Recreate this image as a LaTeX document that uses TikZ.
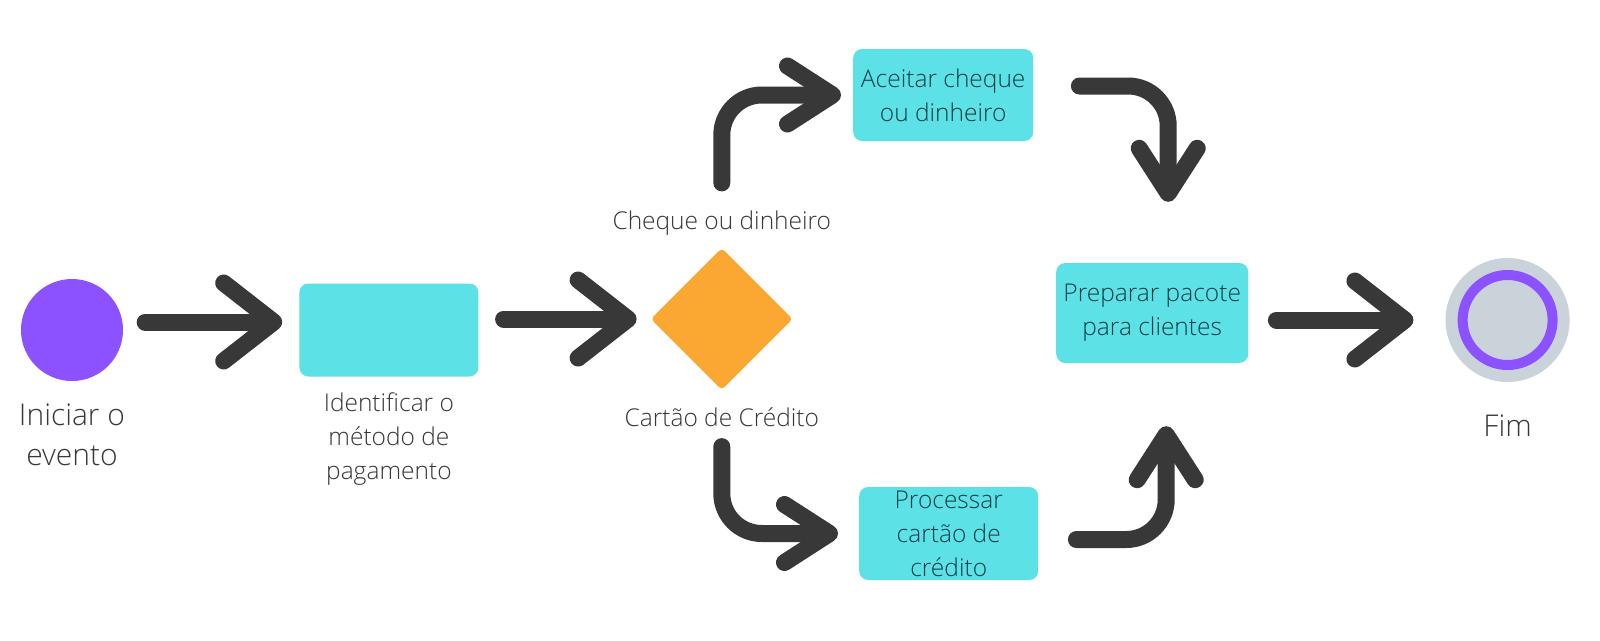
\documentclass[tikz,border=0pt]{standalone}
\usepackage{fontspec}
\setmainfont{Open Sans}[UprightFont=* Light]
\usepackage{tikz}
\usetikzlibrary{arrows.meta, positioning, shapes.geometric}

\definecolor{roxo}{HTML}{8C52FF}
\definecolor{ciano}{HTML}{5CE1E6}
\definecolor{laranja}{HTML}{FAA831}
\definecolor{cinza}{HTML}{CAD2DA}
\definecolor{escuro}{HTML}{383838}
\definecolor{textoazul}{HTML}{0F3F45}

\begin{document}
\begin{tikzpicture}[
    x=1pt, y=1pt,
    evento/.style={circle, fill=roxo, minimum size=102pt, inner sep=0pt},
    fimevento/.style={circle, fill=cinza, minimum size=124pt, inner sep=0pt,
                      path picture={\draw[roxo, line width=10pt] (path picture bounding box.center) circle (45pt);}},
    tarefa/.style={rectangle, rounded corners=9pt, fill=ciano, inner sep=0pt, align=center,
                   text=textoazul, font=\fontsize{24.5}{34}\selectfont},
    decisao/.style={diamond, rounded corners=4pt, fill=laranja, minimum width=142pt,
                    minimum height=142pt, inner sep=0pt},
    rotulo/.style={inner sep=0pt, align=center, text=escuro, font=\fontsize{24.5}{34}\selectfont},
    rotulogrande/.style={rotulo, font=\fontsize{30}{40}\selectfont},
    seta/.style={draw=escuro, line width=17pt, line cap=round,
                 -{Straight Barb[length=50pt, width=78pt, round]}},
    curva/.style={seta, rounded corners=40pt, -{Straight Barb[length=45pt, width=58pt, round]}}
  ]
    \fill[white] (0,0) rectangle (1600,-640);
    \useasboundingbox (0,0) rectangle (1600,-640);

    \node[evento] (inicio) at (72,-330) {};
    \node[tarefa, minimum width=179pt, minimum height=93pt, right=176pt of inicio] (identificar) {};
    \node[decisao, right=172pt of identificar, yshift=11pt] (escolha) {};
    \node[tarefa, minimum width=180pt, minimum height=92pt, right=60pt of escolha, yshift=224pt] (aceitar) {Aceitar cheque\\ou dinheiro};
    \node[tarefa, minimum width=179pt, minimum height=93pt, right=66pt of escolha, yshift=-214.5pt] (processar) {Processar\\cartão de\\crédito};
    \node[tarefa, minimum width=192pt, minimum height=100pt, right=263pt of escolha, yshift=6pt] (preparar) {Preparar pacote\\para clientes};
    \node[fimevento, right=197pt of preparar, yshift=-7pt] (fim) {};

    \node[rotulogrande, below=22pt of inicio] (txt-inicio) {Iniciar o\\evento};
    \node[rotulo, below=16pt of identificar] (txt-identificar) {Identificar o\\método de\\pagamento};
    \node[rotulo, above=12pt of escolha] (txt-cheque) {Cheque ou dinheiro};
    \node[rotulo, below=17pt of escolha] (txt-cartao) {Cartão de Crédito};
    \node[rotulogrande, below=32pt of fim] (txt-fim) {Fim};

    \draw[seta, shorten <=22pt, shorten >=17pt] ([yshift=8pt]inicio.east) -- ([yshift=8pt]identificar.west);
    \draw[seta, shorten <=25pt, shorten >=14pt] (identificar.east |- escolha.west) -- (escolha.west);
    \draw[curva, shorten <=28pt, shorten >=12pt] (txt-cheque.north) |- (aceitar.west);
    \draw[curva, shorten <=46pt, shorten >=61pt] ([yshift=9pt]aceitar.east) -| ([xshift=16pt]preparar.north);
    \draw[curva, shorten <=20pt, shorten >=21pt] (txt-cartao.south) |- (processar.west);
    \draw[curva, shorten <=38pt, shorten >=63pt] ([yshift=-6pt]processar.east) -| ([xshift=14pt]preparar.south);
    \draw[seta, shorten <=28pt, shorten >=32pt] (preparar.east |- fim.west) -- (fim.west);
  \end{tikzpicture}
\end{document}
